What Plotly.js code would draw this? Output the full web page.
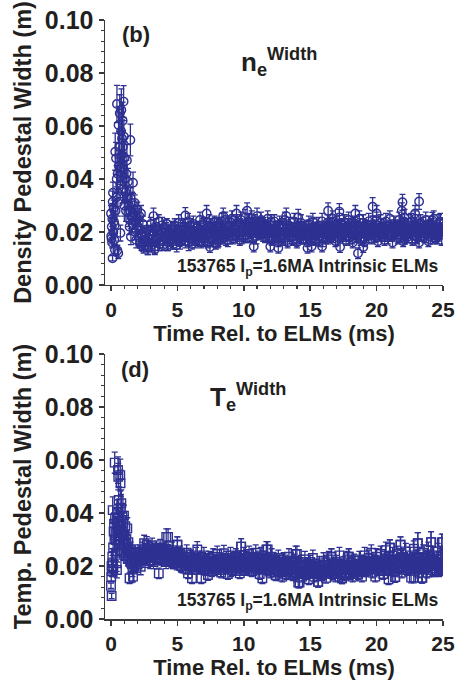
<!DOCTYPE html>
<html>
<head>
<meta charset="utf-8">
<script src="https://cdn.plot.ly/plotly-3.0.1.min.js"></script>
<style>html,body{margin:0;padding:0;background:#fff;}#chart{width:460px;height:696px;}</style>
</head>
<body>
<div id="chart"></div>
<script>
// ---------- data ----------
// panel (b): density pedestal width, early ELM-recovery phase
const neTimeEarly = [
0.00,0.02,0.04,0.06,0.08,0.10,0.12,0.13,0.15,0.18,
0.20,0.22,0.25,0.28,0.30,0.32,0.35,0.38,0.40,0.43,
0.45,0.48,0.50,0.52,0.55,0.57,0.60,0.63,0.66,0.69,
0.71,0.73,0.76,0.78,0.80,0.83,0.86,0.88,0.90,0.93,
0.95,0.97,1.00,1.03,1.06,1.10,1.13,1.16,1.20,1.24,
1.28,1.32,1.36,1.40,1.43,1.46,1.48,1.50,1.54,1.58,
1.62,1.66,1.70,1.74,1.78,1.82,1.86,1.90,1.94,1.98,
2.03,2.08,2.13,2.18,2.22,2.26,2.30,2.35,2.40,2.45];
const neWidthEarly = [
.0270,.0185,.0175,.0220,.0160,.0250,.0101,.0314,.0348,.0200,
.0290,.0240,.0170,.0225,.0132,.0503,.0280,.0478,.0330,.0400,
.0683,.0130,.0420,.0310,.0120,.0604,.0450,.0520,.0648,.0380,
.0196,.0440,.0580,.0660,.0490,.0553,.0360,.0620,.0522,.0440,
.0692,.0560,.0300,.0480,.0400,.0350,.0280,.0420,.0470,.0330,
.0390,.0250,.0300,.0220,.0280,.0547,.0327,.0182,.0260,.0310,
.0230,.0386,.0270,.0240,.0310,.0200,.0260,.0170,.0250,.0283,
.0220,.0180,.0260,.0160,.0210,.0270,.0150,.0190,.0230,.0140];
const neErrEarly = [
.003,.002,.002,.003,.002,.003,.001,.004,.004,.002,
.003,.003,.002,.003,.002,.007,.004,.006,.004,.005,
.007,.002,.006,.005,.002,.007,.006,.006,.007,.005,
.003,.006,.007,.008,.006,.007,.005,.007,.006,.005,
.006,.006,.004,.006,.005,.004,.004,.005,.006,.004,
.005,.003,.004,.003,.003,.006,.004,.003,.003,.004,
.003,.004,.003,.003,.003,.003,.003,.003,.003,.003,
.003,.003,.003,.002,.003,.003,.002,.003,.003,.002];

// time bases of the inter-ELM phase (shared by both panels)
const tailTime = [
2.5,2.6,2.7,2.8,2.9,3.0,3.1,3.2,3.3,3.4,
3.5,3.6,3.7,3.8,3.9,4.0,4.1,4.2,4.3,4.4,
4.5,4.6,4.7,4.8,4.9,5.0,5.1,5.2,5.3,5.4,
5.5,5.6,5.7,5.8,5.9,6.0,6.1,6.2,6.3,6.4,
6.5,6.6,6.7,6.8,6.9,7.0,7.1,7.2,7.3,7.4,
7.5,7.6,7.7,7.8,7.9,8.0,8.1,8.2,8.3,8.4,
8.5,8.6,8.7,8.8,8.9,9.0,9.1,9.2,9.3,9.4,
9.5,9.6,9.7,9.8,9.9,10.0,10.1,10.2,10.3,10.4,
10.5,10.6,10.7,10.8,10.9,11.0,11.1,11.2,11.3,11.4,
11.5,11.6,11.7,11.8,11.9,12.0,12.1,12.2,12.3,12.4,
12.5,12.6,12.7,12.8,12.9,13.0,13.1,13.2,13.3,13.4,
13.5,13.6,13.7,13.8,13.9,14.0,14.1,14.2,14.3,14.4,
14.5,14.6,14.7,14.8,14.9,15.0,15.1,15.2,15.3,15.4,
15.5,15.6,15.7,15.8,15.9,16.0,16.1,16.2,16.3,16.4,
16.5,16.6,16.7,16.8,16.9,17.0,17.1,17.2,17.3,17.4,
17.5,17.6,17.7,17.8,17.9,18.0,18.1,18.2,18.3,18.4,
18.5,18.6,18.7,18.8,18.9,19.0,19.1,19.2,19.3,19.4,
19.5,19.6,19.7,19.8,19.9,20.0,20.1,20.2,20.3,20.4,
20.5,20.6,20.7,20.8,20.9,21.0,21.1,21.2,21.3,21.4,
21.5,21.6,21.7,21.8,21.9,22.0,22.1,22.2,22.3,22.4,
22.5,22.6,22.7,22.8,22.9,23.0,23.1,23.2,23.3,23.4,
23.5,23.6,23.7,23.8,23.9,24.0,24.1,24.2,24.3,24.4,
24.5,24.6,24.7,24.8,24.9,25.0];
const tailTime2 = [
2.55,2.65,2.75,2.85,2.95,3.05,3.15,3.25,3.35,3.45,
3.55,3.65,3.75,3.85,3.95,4.05,4.15,4.25,4.35,4.45,
4.55,4.65,4.75,4.85,4.95,5.05,5.15,5.25,5.35,5.45,
5.55,5.65,5.75,5.85,5.95,6.05,6.15,6.25,6.35,6.45,
6.55,6.65,6.75,6.85,6.95,7.05,7.15,7.25,7.35,7.45,
7.55,7.65,7.75,7.85,7.95,8.05,8.15,8.25,8.35,8.45,
8.55,8.65,8.75,8.85,8.95,9.05,9.15,9.25,9.35,9.45,
9.55,9.65,9.75,9.85,9.95,10.05,10.15,10.25,10.35,10.45,
10.55,10.65,10.75,10.85,10.95,11.05,11.15,11.25,11.35,11.45,
11.55,11.65,11.75,11.85,11.95,12.05,12.15,12.25,12.35,12.45,
12.55,12.65,12.75,12.85,12.95,13.05,13.15,13.25,13.35,13.45,
13.55,13.65,13.75,13.85,13.95,14.05,14.15,14.25,14.35,14.45,
14.55,14.65,14.75,14.85,14.95,15.05,15.15,15.25,15.35,15.45,
15.55,15.65,15.75,15.85,15.95,16.05,16.15,16.25,16.35,16.45,
16.55,16.65,16.75,16.85,16.95,17.05,17.15,17.25,17.35,17.45,
17.55,17.65,17.75,17.85,17.95,18.05,18.15,18.25,18.35,18.45,
18.55,18.65,18.75,18.85,18.95,19.05,19.15,19.25,19.35,19.45,
19.55,19.65,19.75,19.85,19.95,20.05,20.15,20.25,20.35,20.45,
20.55,20.65,20.75,20.85,20.95,21.05,21.15,21.25,21.35,21.45,
21.55,21.65,21.75,21.85,21.95,22.05,22.15,22.25,22.35,22.45,
22.55,22.65,22.75,22.85,22.95,23.05,23.15,23.25,23.35,23.45,
23.55,23.65,23.75,23.85,23.95,24.05,24.15,24.25,24.35,24.45,
24.55,24.65,24.75,24.85,24.95];

const neWidthTail = [
.0170,.0150,.0210,.0140,.0190,.0230,.0160,.0200,.0145,.0220,
.0180,.0240,.0165,.0200,.0150,.0215,.0185,.0230,.0160,.0195,
.0175,.0210,.0155,.0225,.0190,.0170,.0235,.0160,.0205,.0180,
.0220,.0165,.0200,.0240,.0175,.0210,.0155,.0230,.0190,.0170,
.0215,.0185,.0245,.0165,.0200,.0225,.0175,.0210,.0160,.0235,
.0195,.0220,.0170,.0240,.0185,.0205,.0165,.0230,.0200,.0215,
.0180,.0245,.0195,.0170,.0225,.0205,.0250,.0175,.0215,.0190,
.0235,.0200,.0170,.0245,.0210,.0185,.0255,.0220,.0180,.0240,
.0205,.0250,.0175,.0230,.0215,.0260,.0190,.0225,.0245,.0200,
.0230,.0180,.0215,.0250,.0195,.0225,.0170,.0210,.0240,.0185,
.0205,.0165,.0230,.0190,.0215,.0175,.0245,.0200,.0160,.0225,
.0185,.0210,.0170,.0240,.0195,.0160,.0220,.0180,.0235,.0200,
.0175,.0215,.0190,.0165,.0230,.0185,.0205,.0240,.0170,.0210,
.0195,.0225,.0165,.0205,.0240,.0180,.0215,.0175,.0235,.0200,
.0220,.0180,.0250,.0195,.0165,.0230,.0205,.0255,.0185,.0215,
.0190,.0235,.0170,.0210,.0245,.0180,.0220,.0160,.0200,.0230,
.0185,.0215,.0250,.0170,.0205,.0235,.0165,.0220,.0195,.0240,
.0200,.0175,.0230,.0210,.0185,.0245,.0165,.0215,.0235,.0190,
.0220,.0170,.0240,.0200,.0185,.0250,.0210,.0160,.0230,.0195,
.0215,.0175,.0245,.0190,.0225,.0165,.0255,.0205,.0180,.0235,
.0200,.0240,.0170,.0220,.0250,.0185,.0210,.0160,.0235,.0195,
.0225,.0180,.0245,.0205,.0165,.0230,.0215,.0190,.0250,.0175,
.0210,.0185,.0235,.0200,.0170,.0220];
const neWidthTail2 = [
.0160,.0195,.0145,.0175,.0205,.0150,.0185,.0165,.0210,.0175,
.0205,.0155,.0190,.0225,.0170,.0185,.0210,.0150,.0200,.0175,
.0195,.0165,.0215,.0185,.0150,.0200,.0180,.0220,.0170,.0195,
.0180,.0210,.0185,.0160,.0225,.0195,.0175,.0205,.0165,.0215,
.0195,.0165,.0210,.0185,.0230,.0175,.0200,.0190,.0220,.0180,
.0210,.0175,.0200,.0190,.0225,.0170,.0215,.0185,.0240,.0195,
.0205,.0180,.0220,.0195,.0185,.0235,.0200,.0215,.0185,.0225,
.0195,.0215,.0230,.0185,.0200,.0225,.0190,.0210,.0235,.0205,
.0225,.0195,.0215,.0240,.0185,.0210,.0235,.0200,.0220,.0190,
.0205,.0225,.0195,.0210,.0180,.0240,.0200,.0190,.0215,.0205,
.0190,.0215,.0200,.0175,.0225,.0195,.0180,.0215,.0205,.0185,
.0210,.0180,.0200,.0220,.0175,.0205,.0190,.0215,.0185,.0210,
.0200,.0185,.0210,.0225,.0190,.0200,.0175,.0220,.0195,.0185,
.0210,.0185,.0200,.0215,.0175,.0200,.0190,.0220,.0185,.0210,
.0200,.0235,.0190,.0215,.0205,.0180,.0220,.0195,.0230,.0200,
.0215,.0200,.0185,.0225,.0195,.0210,.0185,.0235,.0210,.0190,
.0205,.0195,.0220,.0180,.0210,.0195,.0225,.0185,.0215,.0200,
.0215,.0195,.0205,.0185,.0225,.0200,.0210,.0190,.0220,.0205,
.0195,.0215,.0205,.0180,.0225,.0200,.0190,.0215,.0205,.0220,
.0200,.0225,.0190,.0215,.0205,.0235,.0185,.0215,.0200,.0210,
.0215,.0190,.0205,.0225,.0200,.0180,.0220,.0205,.0195,.0215,
.0200,.0215,.0190,.0220,.0205,.0185,.0225,.0200,.0210,.0195,
.0205,.0190,.0215,.0200,.0210];
const neErrTail = [
.0025,.002,.003,.0025,.002,.0025,.003,.002,.0025,.003,
.002,.0025,.0025,.003,.002,.003,.0025,.002,.003,.0025,
.0025,.003,.002,.0025,.0025,.002,.003,.0025,.002,.0025,
.003,.0025,.002,.003,.0025,.0025,.002,.003,.0025,.002,
.0025,.002,.003,.0025,.002,.003,.0025,.0025,.002,.003,
.002,.003,.0025,.002,.0025,.003,.002,.0025,.003,.0025,
.0025,.003,.002,.0025,.003,.0025,.003,.002,.0025,.002,
.003,.0025,.002,.003,.0025,.002,.003,.0025,.002,.003,
.0025,.003,.002,.0025,.003,.003,.002,.0025,.003,.0025,
.0025,.002,.003,.003,.0025,.0025,.002,.003,.0025,.002,
.0025,.002,.003,.0025,.0025,.002,.003,.0025,.002,.003,
.002,.0025,.002,.003,.0025,.002,.003,.0025,.003,.0025,
.002,.0025,.003,.002,.003,.0025,.0025,.003,.002,.0025,
.0025,.003,.002,.0025,.003,.002,.0025,.002,.003,.0025,
.003,.002,.003,.0025,.002,.003,.0025,.003,.002,.0025,
.0025,.003,.002,.0025,.003,.0025,.003,.002,.0025,.003,
.002,.0025,.003,.002,.0025,.003,.002,.0025,.0025,.003,
.0025,.002,.003,.0025,.002,.003,.002,.0025,.003,.0025,
.003,.002,.003,.0025,.002,.003,.0025,.002,.003,.0025,
.0025,.002,.003,.0025,.003,.002,.003,.0025,.002,.003,
.0025,.003,.002,.0025,.003,.0025,.0025,.002,.003,.0025,
.003,.002,.003,.0025,.002,.003,.0025,.0025,.003,.002,
.0025,.002,.003,.0025,.002,.003];
const neOutTime = [3.2,3.3,5.6,7.2,7.45,7.9,8.45,9.45,10.25,10.75,12.0,12.6,13.2,14.1,14.8,15.1,15.9,16.35,17.2,17.25,18.4,18.6,19.0,19.7,20.0,21.9,21.95,22.1,22.9,23.2,24.2,24.55,24.7,24.8];
const neOutWidth = [.0260,.0135,.0262,.0270,.0143,.0155,.0260,.0270,.0280,.0145,.0145,.0140,.0260,.0255,.0140,.0145,.0145,.0280,.0277,.0143,.0270,.0120,.0143,.0295,.0270,.0280,.0312,.0185,.0270,.0315,.0244,.0185,.0200,.0240];
const neOutErr = [.003,.002,.003,.003,.002,.002,.003,.003,.003,.002,.002,.002,.003,.003,.002,.002,.002,.003,.003,.002,.003,.002,.002,.0035,.003,.003,.003,.003,.003,.003,.003,.003,.003,.003];

// panel (d): temperature pedestal width
const teTimeEarly = [
0.00,0.02,0.04,0.05,0.07,0.10,0.12,0.13,0.16,0.18,
0.20,0.23,0.26,0.28,0.31,0.33,0.36,0.38,0.41,0.43,
0.45,0.48,0.50,0.53,0.55,0.58,0.60,0.63,0.66,0.70,
0.72,0.75,0.78,0.80,0.83,0.86,0.90,0.93,0.96,0.98,
1.02,1.05,1.08,1.12,1.16,1.20,1.23,1.27,1.31,1.35,
1.40,1.44,1.48,1.53,1.58,1.62,1.66,1.70,1.76,1.82,
1.88,1.94,2.00,2.06,2.12,2.18,2.24,2.30,2.36,2.42];
const teWidthEarly = [
.0125,.0160,.0200,.0087,.0180,.0235,.0210,.0411,.0270,.0190,
.0330,.0360,.0300,.0590,.0380,.0323,.0250,.0298,.0340,.0210,
.0185,.0400,.0370,.0562,.0537,.0449,.0310,.0280,.0350,.0543,
.0512,.0420,.0437,.0330,.0260,.0390,.0300,.0360,.0250,.0390,
.0320,.0280,.0350,.0240,.0300,.0270,.0342,.0230,.0290,.0250,
.0154,.0220,.0260,.0210,.0240,.0190,.0160,.0230,.0200,.0250,
.0215,.0230,.0205,.0240,.0220,.0250,.0197,.0235,.0260,.0225];
const teErrEarly = [
.001,.002,.003,.001,.002,.003,.003,.005,.003,.003,
.004,.004,.004,.004,.004,.004,.003,.004,.004,.003,
.003,.005,.004,.005,.005,.005,.004,.004,.004,.006,
.005,.005,.005,.004,.003,.004,.004,.004,.003,.004,
.004,.003,.004,.003,.003,.003,.004,.003,.003,.003,
.002,.003,.003,.003,.003,.003,.002,.003,.003,.003,
.003,.003,.003,.003,.003,.003,.003,.003,.003,.003];
const teWidthTail = [
.0286,.0245,.0281,.0220,.0260,.0235,.0275,.0215,.0250,.0265,
.0230,.0172,.0270,.0240,.0255,.0220,.0265,.0235,.0310,.0250,
.0225,.0260,.0210,.0245,.0235,.0280,.0215,.0250,.0200,.0240,
.0225,.0190,.0250,.0172,.0215,.0235,.0154,.0220,.0200,.0240,
.0262,.0195,.0225,.0154,.0210,.0240,.0185,.0220,.0166,.0230,
.0205,.0180,.0235,.0215,.0190,.0245,.0200,.0225,.0175,.0210,
.0248,.0195,.0230,.0170,.0215,.0240,.0185,.0220,.0205,.0235,
.0190,.0225,.0172,.0273,.0210,.0240,.0185,.0230,.0200,.0245,
.0215,.0180,.0235,.0205,.0250,.0190,.0225,.0170,.0240,.0154,
.0210,.0230,.0262,.0185,.0215,.0175,.0235,.0195,.0220,.0165,
.0205,.0230,.0180,.0215,.0160,.0225,.0195,.0170,.0210,.0235,
.0185,.0205,.0165,.0220,.0245,.0175,.0138,.0200,.0215,.0160,
.0195,.0225,.0170,.0205,.0150,.0215,.0185,.0230,.0160,.0200,
.0175,.0140,.0210,.0190,.0165,.0220,.0180,.0155,.0205,.0225,
.0185,.0235,.0170,.0200,.0160,.0215,.0190,.0240,.0175,.0154,
.0210,.0165,.0195,.0225,.0235,.0175,.0205,.0160,.0220,.0185,
.0200,.0170,.0225,.0190,.0160,.0215,.0240,.0180,.0205,.0230,
.0195,.0250,.0175,.0215,.0160,.0235,.0200,.0185,.0245,.0210,
.0170,.0225,.0260,.0190,.0150,.0269,.0210,.0240,.0180,.0158,
.0215,.0245,.0195,.0280,.0175,.0230,.0205,.0255,.0185,.0220,
.0240,.0156,.0210,.0265,.0190,.0230,.0286,.0175,.0220,.0155,
.0250,.0195,.0230,.0175,.0260,.0210,.0290,.0185,.0240,.0215,
.0200,.0255,.0180,.0235,.0290,.0185];
const teWidthTail2 = [
.0255,.0230,.0265,.0240,.0220,.0250,.0235,.0260,.0230,.0245,
.0250,.0225,.0245,.0260,.0230,.0240,.0215,.0255,.0235,.0225,
.0240,.0220,.0250,.0230,.0210,.0240,.0225,.0205,.0235,.0215,
.0210,.0230,.0200,.0220,.0235,.0195,.0215,.0205,.0225,.0200,
.0215,.0230,.0195,.0210,.0225,.0200,.0190,.0215,.0205,.0220,
.0195,.0215,.0205,.0190,.0225,.0200,.0215,.0185,.0210,.0220,
.0205,.0225,.0195,.0215,.0200,.0190,.0220,.0205,.0230,.0195,
.0210,.0200,.0225,.0195,.0215,.0205,.0230,.0210,.0190,.0220,
.0205,.0225,.0195,.0215,.0200,.0230,.0210,.0195,.0215,.0205,
.0195,.0215,.0200,.0225,.0190,.0210,.0200,.0185,.0215,.0195,
.0200,.0185,.0210,.0195,.0180,.0205,.0190,.0215,.0185,.0200,
.0190,.0175,.0200,.0185,.0170,.0195,.0180,.0205,.0185,.0175,
.0185,.0195,.0170,.0190,.0180,.0200,.0175,.0190,.0185,.0170,
.0190,.0180,.0195,.0170,.0185,.0200,.0175,.0190,.0180,.0195,
.0180,.0195,.0175,.0190,.0205,.0180,.0195,.0170,.0190,.0200,
.0185,.0195,.0175,.0200,.0185,.0170,.0195,.0180,.0200,.0190,
.0195,.0180,.0205,.0190,.0210,.0185,.0200,.0215,.0190,.0205,
.0200,.0215,.0190,.0205,.0220,.0195,.0210,.0185,.0205,.0220,
.0210,.0195,.0220,.0205,.0185,.0215,.0200,.0225,.0195,.0210,
.0220,.0200,.0215,.0230,.0195,.0210,.0225,.0200,.0215,.0190,
.0205,.0225,.0195,.0215,.0235,.0200,.0220,.0190,.0210,.0230,
.0215,.0200,.0225,.0195,.0210,.0235,.0200,.0220,.0190,.0215,
.0205,.0225,.0195,.0215,.0200];
const teErrTail = [
.003,.0025,.003,.0025,.003,.002,.003,.0025,.0025,.003,
.0025,.002,.003,.0025,.003,.002,.0025,.0025,.003,.0025,
.0025,.003,.002,.0025,.0025,.003,.002,.0025,.0025,.002,
.0025,.002,.003,.002,.0025,.0025,.002,.0025,.002,.003,
.003,.002,.0025,.002,.0025,.003,.002,.0025,.002,.0025,
.0025,.002,.003,.0025,.002,.003,.002,.0025,.002,.0025,
.003,.002,.0025,.002,.0025,.003,.002,.0025,.0025,.003,
.002,.0025,.002,.003,.0025,.003,.002,.0025,.002,.003,
.0025,.002,.003,.0025,.003,.002,.0025,.002,.003,.002,
.0025,.0025,.003,.002,.0025,.002,.003,.0025,.0025,.002,
.0025,.003,.002,.0025,.002,.0025,.0025,.002,.0025,.003,
.002,.0025,.002,.0025,.003,.002,.002,.0025,.0025,.002,
.0025,.003,.002,.0025,.002,.0025,.002,.003,.002,.0025,
.002,.002,.0025,.0025,.002,.003,.002,.002,.0025,.003,
.0025,.003,.002,.0025,.002,.0025,.0025,.003,.002,.002,
.0025,.002,.0025,.003,.003,.002,.0025,.002,.0025,.0025,
.0025,.002,.003,.0025,.002,.0025,.003,.002,.0025,.003,
.0025,.003,.002,.0025,.002,.003,.0025,.002,.003,.0025,
.002,.003,.003,.0025,.002,.003,.0025,.003,.002,.002,
.0025,.003,.0025,.003,.002,.003,.0025,.003,.002,.0025,
.003,.002,.0025,.003,.0025,.003,.004,.002,.0025,.002,
.003,.0025,.003,.002,.003,.0025,.004,.002,.003,.0025,
.0025,.003,.002,.003,.003,.002];
const teOutTime = [4.16,5.0,9.8,11.8,14.0,14.2,15.6,16.6,17.4,17.9,21.0,21.4,21.8,22.8,23.1,23.45,24.1,25.0,24.95,24.9];
const teOutWidth = [.0310,.0280,.0273,.0262,.0245,.0138,.0140,.0235,.0154,.0235,.0269,.0158,.0280,.0156,.0286,.0155,.0290,.0290,.0240,.0185];
const teOutErr = [.003,.003,.003,.003,.003,.002,.002,.003,.002,.003,.003,.002,.003,.002,.004,.002,.004,.003,.003,.002];

// text
const xTitle = 'Time Rel. to ELMs (ms)';
const yTitleTop = 'Density Pedestal Width (m)';
const yTitleBottom = 'Temp. Pedestal Width (m)';
const panelLabels = ['(b)', '(d)'];
const quantityLabels = ['n<sub>e</sub><sup>Width</sup>', 'T<sub>e</sub><sup>Width</sup>'];
const shotLabel = '153765 I<sub>p</sub>=1.6MA Intrinsic ELMs';

// ---------- styling ----------
const MARK = '#2e3192';
const INK = '#231f20';
const AXC = '#3a3a3a';
const FONT = 'Liberation Sans, Arial, Helvetica, sans-serif';

function series(t, w, e, sym, xa, ya) {
  return {
    type: 'scatter', mode: 'markers', x: t, y: w, xaxis: xa, yaxis: ya,
    marker: {symbol: sym, size: 8.5, color: MARK, line: {color: MARK, width: 1.4}},
    error_y: {type: 'data', array: e, visible: true, color: MARK, thickness: 1.3, width: 3},
    hoverinfo: 'x+y', cliponaxis: true
  };
}

const traces = [
  series(neTimeEarly.concat(tailTime, neOutTime), neWidthEarly.concat(neWidthTail, neOutWidth),
         neErrEarly.concat(neErrTail, neOutErr), 'circle-open', 'x', 'y'),
  series(tailTime2, neWidthTail2, neErrTail, 'circle-open', 'x', 'y'),
  series(teTimeEarly.concat(tailTime, teOutTime), teWidthEarly.concat(teWidthTail, teOutWidth),
         teErrEarly.concat(teErrTail, teOutErr), 'square-open', 'x2', 'y2'),
  series(tailTime2, teWidthTail2, teErrTail, 'square-open', 'x2', 'y2')
];

function xAxis(anchor) {
  return {
    anchor: anchor, domain: [0, 1], range: [-0.45, 25],
    tick0: 0, dtick: 5, ticks: 'outside', ticklen: 5, tickwidth: 1.5, tickcolor: AXC,
    minor: {dtick: 1, ticks: 'outside', ticklen: 3, tickwidth: 1.2, tickcolor: AXC, showgrid: false},
    showline: true, linecolor: AXC, linewidth: 1.5, showgrid: false, zeroline: false,
    tickfont: {family: FONT, size: 21, weight: 'bold', color: INK},
    title: {text: xTitle, font: {family: FONT, size: 22, weight: 'bold', color: INK}, standoff: 4}
  };
}
function yAxis(anchor, domain, title) {
  return {
    anchor: anchor, domain: domain, range: [0, 0.1],
    tick0: 0, dtick: 0.02, tickformat: '.2f', ticks: 'outside', ticklen: 5, tickwidth: 1.5, tickcolor: AXC,
    minor: {dtick: 0.004, ticks: 'outside', ticklen: 3, tickwidth: 1.2, tickcolor: AXC, showgrid: false},
    showline: true, linecolor: AXC, linewidth: 1.5, showgrid: false, zeroline: false,
    tickfont: {family: FONT, size: 25, weight: 'bold', color: INK},
    title: {text: title, font: {family: FONT, size: 23.5, weight: 'bold', color: INK}, standoff: 6}
  };
}

const ann = (text, x, y, size) => ({
  text: text, xref: 'paper', yref: 'paper', x: x, y: y, xanchor: 'left', yanchor: 'middle',
  showarrow: false, font: {family: FONT, size: size, weight: 'bold', color: INK}
});

const layout = {
  width: 460, height: 696,
  margin: {l: 105, r: 17, t: 20, b: 77},
  paper_bgcolor: '#fff', plot_bgcolor: '#fff', showlegend: false,
  xaxis: xAxis('y'),
  yaxis: yAxis('x', [0.5576, 1], yTitleTop),
  xaxis2: xAxis('y2'),
  yaxis2: yAxis('x2', [0, 0.4424], yTitleBottom),
  annotations: [
    ann(panelLabels[0], 0.045, 0.975, 22),
    ann(panelLabels[1], 0.04, 0.417, 22),
    ann(quantityLabels[0], 0.395, 0.93, 26),
    ann(quantityLabels[1], 0.305, 0.37, 26),
    ann(shotLabel, 0.207, 0.586, 17.5),
    ann(shotLabel, 0.207, 0.0284, 17.5)
  ]
};

Plotly.newPlot('chart', traces, layout, {staticPlot: true, displayModeBar: false});
</script>
</body>
</html>
